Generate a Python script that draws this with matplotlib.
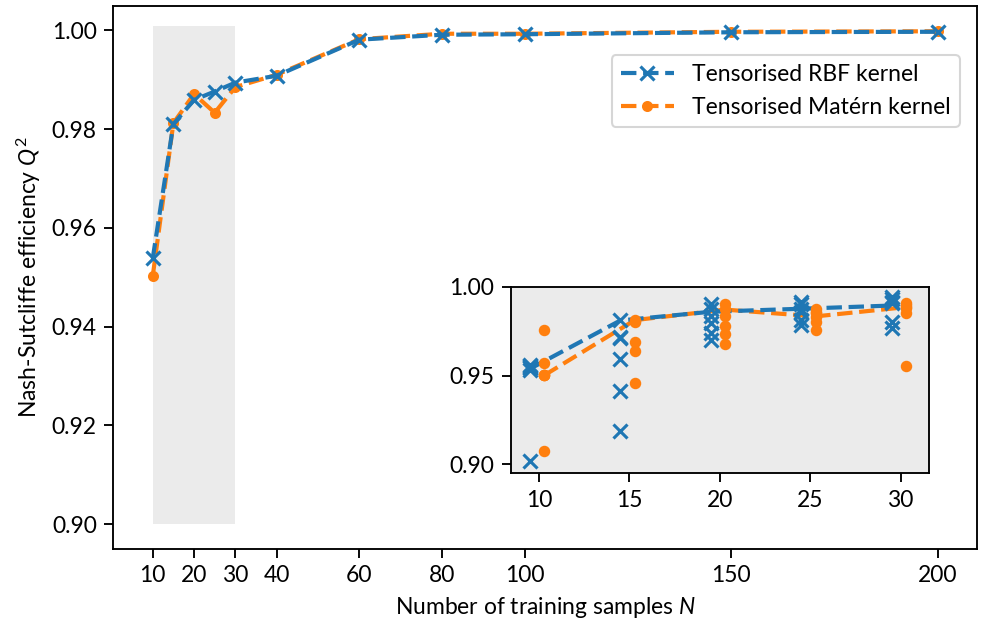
import numpy as np
import matplotlib.pyplot as plt

plt.rcParams['font.family'] = ['Lato', 'DejaVu Sans']
plt.rcParams['font.size'] = 11
plt.rcParams['mathtext.fontset'] = 'custom'
plt.rcParams['mathtext.rm'] = 'Lato'
plt.rcParams['mathtext.it'] = 'Lato:italic'

# number of training samples
n_train = [10, 15, 20, 25, 30, 40, 60, 80, 100, 150, 200]
# Q^2 of the selected model
q2_rbf = [0.9538, 0.9810, 0.9859, 0.9876, 0.9894, 0.9908, 0.9981, 0.9991, 0.9992, 0.9996, 0.9997]
q2_matern = [0.9502, 0.9812, 0.9871, 0.9833, 0.9885, 0.9910, 0.9982, 0.9993, 0.9993, 0.9997, 0.9998]

# all repetitions for the small sample sizes (inset)
n_small = [10, 15, 20, 25, 30]
runs_rbf = [
    [0.9019, 0.9530, 0.9540, 0.9550, 0.9560, 0.9555],
    [0.9190, 0.9413, 0.9591, 0.9710, 0.9813, 0.9715],
    [0.9905, 0.9875, 0.9835, 0.9794, 0.9738, 0.9700],
    [0.9916, 0.9900, 0.9875, 0.9859, 0.9813, 0.9784],
    [0.9944, 0.9930, 0.9916, 0.9906, 0.9803, 0.9766],
]
runs_matern = [
    [0.9077, 0.9503, 0.9503, 0.9572, 0.9756, 0.9503],
    [0.9813, 0.9800, 0.9690, 0.9640, 0.9456, 0.9808],
    [0.9901, 0.9873, 0.9835, 0.9779, 0.9734, 0.9678],
    [0.9873, 0.9850, 0.9827, 0.9803, 0.9756, 0.9860],
    [0.9906, 0.9895, 0.9878, 0.9850, 0.9554, 0.9885],
]

blue = '#1f77b4'
orange = '#ff7f0e'
grey = '#ebebeb'

fig = plt.figure(figsize=(991 / 150, 629 / 150), dpi=150)
ax = fig.add_axes([0.1145, 0.1275, 0.8714, 0.8636])

ax.fill_between([n_small[0], n_small[-1]], 0.9, 1.0008, color=grey, lw=0, zorder=0)
l_mat, = ax.plot(n_train, q2_matern, '--', marker='o', color=orange, lw=2, ms=4.3,
                 label='Tensorised Matérn kernel', zorder=2)
l_rbf, = ax.plot(n_train, q2_rbf, '--', marker='x', color=blue, lw=2, ms=6.5, mew=1.5,
                 label='Tensorised RBF kernel', zorder=3)

ax.set_ylim(0.895, 1.005)
ax.set_xticks([10, 20, 30, 40, 60, 80, 100, 150, 200])
ax.set_yticks(np.arange(0.90, 1.001, 0.02))
ax.yaxis.set_major_formatter(plt.FormatStrFormatter('%.2f'))
ax.set_xlabel('Number of training samples $N$')
ax.set_ylabel('Nash-Sutcliffe efficiency $Q^2$')
ax.tick_params(length=4.5, width=0.9)
for s in ax.spines.values():
    s.set_linewidth(0.9)
ax.legend(handles=[l_rbf, l_mat], loc='upper right', bbox_to_anchor=(0.980, 0.909),
          borderaxespad=0, handlelength=2.3)

# inset with the individual runs
axin = fig.add_axes([0.5156, 0.2475, 0.4218, 0.2967])
axin.set_facecolor(grey)
x = np.array(n_small)
axin.plot(x - 0.5, q2_rbf[:5], '--', color=blue, lw=2, zorder=3)
axin.plot(x + 0.3, q2_matern[:5], '--', color=orange, lw=2, zorder=2)
for i, n in enumerate(n_small):
    axin.plot([n - 0.5] * len(runs_rbf[i]), runs_rbf[i], 'x', color=blue, ms=6.5, mew=1.5, zorder=4)
    axin.plot([n + 0.3] * len(runs_matern[i]), runs_matern[i], 'o', color=orange, ms=4.5, zorder=3)
axin.set_xlim(8.45, 31.57)
axin.set_ylim(0.895, 1.0)
axin.set_xticks(n_small)
axin.set_yticks([0.90, 0.95, 1.00])
axin.yaxis.set_major_formatter(plt.FormatStrFormatter('%.2f'))
axin.tick_params(length=4.5, width=0.9)
for s in axin.spines.values():
    s.set_linewidth(0.9)

fig.savefig('out.png', dpi=150)
